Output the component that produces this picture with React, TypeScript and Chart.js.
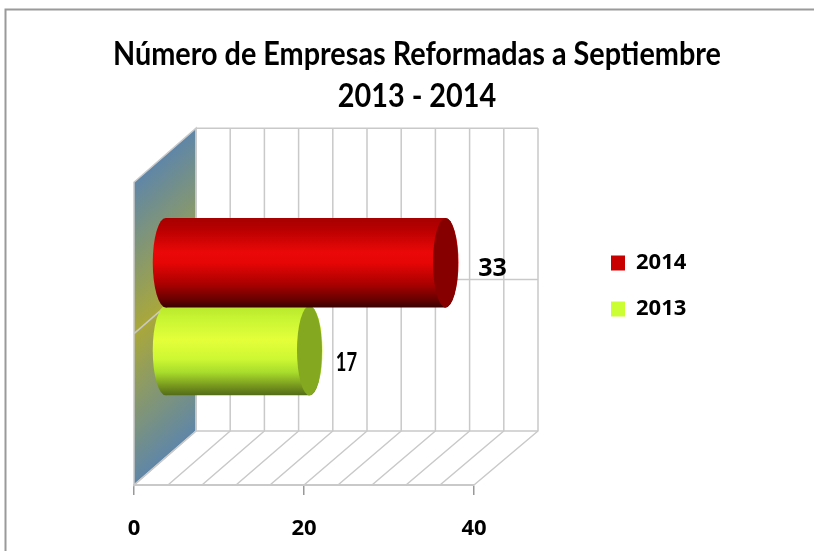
import React, { useEffect, useRef } from "react";
import { Chart, registerables } from "chart.js";

Chart.register(...registerables);

const categories = [""];
const seriesNames = ["2014", "2013"];
const seriesValues = [[33], [17]];
const legendColors = ["#c80000", "#ccff33"];
const capColors = ["#860000", "#84a820"];
const axisTicks = [0, 20, 40];
const titleLines = ["Número de Empresas Reformadas a Septiembre", "2013 - 2014"];
const gradientStops: [number, string][][] = [
  [[0, "#a80000"], [0.12, "#b80000"], [0.38, "#ea0808"], [0.5, "#e60606"], [0.75, "#a80000"], [0.92, "#680000"], [1, "#3c0000"]],
  [[0, "#b8e62c"], [0.12, "#c6f432"], [0.38, "#e4ff3a"], [0.6, "#ccf732"], [0.75, "#a8dc2c"], [0.9, "#78981e"], [1, "#56701a"]],
];

const CAT_PCT = 0.58;
const DX = 62, DY = -54;
const BACK_SCALE = 342 / 340;
const HALF_DX = 31, HALF_DY = -27;
const LINE = "#c9c9c9";
const BODY_FONT = "'Open Sans'";
const TITLE_CENTER = 417;
const TITLE_SQUEEZE = 0.9;

const decor = {
  id: "decor",
  afterLayout(chart: any) {
    chart.legend.left = 587;
    chart.legend.right = 760;
    chart.legend.top = 228;
    chart.legend.bottom = 480;
    const t = chart.titleBlock;
    t.left = 10;
    t.right = 824;
    if (!t._squeezed) {
      t._squeezed = true;
      const draw = t.draw.bind(t);
      t.draw = () => {
        const c = chart.ctx;
        c.save();
        c.translate(TITLE_CENTER, 0);
        c.scale(TITLE_SQUEEZE, 1);
        c.translate(-TITLE_CENTER, 0);
        draw();
        c.restore();
      };
    }
  },
  beforeDraw(chart: any) {
    const c = chart.ctx;
    c.save();
    c.strokeStyle = "#9a9a9a";
    c.lineWidth = 2;
    c.beginPath();
    c.moveTo(5.5, 551);
    c.lineTo(5.5, 9.5);
    c.lineTo(814, 9.5);
    c.stroke();
    c.restore();
  },
  beforeDatasetsDraw(chart: any) {
    const c = chart.ctx;
    const a = chart.chartArea;
    const x = chart.scales.x;
    const x0 = x.getPixelForValue(0);
    const xb = (v: number) => x0 + DX + (x.getPixelForValue(v) - x0) * BACK_SCALE;
    const backTop = a.top + DY;
    const backBot = a.bottom + DY;
    c.save();
    // side wall
    const g = c.createLinearGradient(x0, a.top, x0 + 150, a.top + 172);
    g.addColorStop(0, "#5f86a8");
    g.addColorStop(0.5, "#aaa83a");
    g.addColorStop(1, "#5f86a8");
    c.fillStyle = g;
    c.beginPath();
    c.moveTo(x0, a.top);
    c.lineTo(x0 + DX, backTop);
    c.lineTo(x0 + DX, backBot);
    c.lineTo(x0, a.bottom);
    c.closePath();
    c.fill();
    c.strokeStyle = LINE;
    c.lineWidth = 1.5;
    c.stroke();
    // back wall and floor grid
    for (let v = 0; v <= 40; v += 4) {
      c.beginPath();
      c.moveTo(x.getPixelForValue(v), a.bottom);
      c.lineTo(xb(v), backBot);
      c.lineTo(xb(v), backTop);
      c.stroke();
    }
    const cy = (a.top + a.bottom) / 2;
    const rows = [backTop, backBot, cy + DY];
    rows.forEach((y) => {
      c.beginPath();
      c.moveTo(xb(0), y);
      c.lineTo(xb(40), y);
      c.stroke();
    });
    c.beginPath();
    c.moveTo(x0, cy);
    c.lineTo(x0 + DX, cy + DY);
    c.stroke();
    c.restore();
  },
  beforeDatasetDraw(chart: any, args: any) {
    const c = chart.ctx;
    c.save();
    c.translate(HALF_DX, HALF_DY);
    const bar = chart.getDatasetMeta(args.index).data[0];
    const h = bar.height;
    c.fillStyle = bar.options.backgroundColor;
    c.beginPath();
    c.ellipse(bar.base, bar.y, 13, h / 2, 0, 0, Math.PI * 2);
    c.fill();
    c.beginPath();
    c.ellipse(bar.x, bar.y, 13, h / 2, 0, 0, Math.PI * 2);
    c.fill();
  },
  afterDatasetDraw(chart: any, args: any) {
    const c = chart.ctx;
    const bar = chart.getDatasetMeta(args.index).data[0];
    c.fillStyle = capColors[args.index];
    c.beginPath();
    c.ellipse(bar.x, bar.y, 12.5, bar.height / 2, 0, 0, Math.PI * 2);
    c.fill();
    c.restore();
  },
  afterDatasetsDraw(chart: any) {
    const c = chart.ctx;
    const offsets = [[78, -21], [68, -15]];
    const fonts = [`bold 25px ${BODY_FONT}`, "bold 27px Lato"];
    const squeeze = [1, 0.68];
    c.save();
    c.fillStyle = "#000";
    c.textAlign = "center";
    c.textBaseline = "middle";
    seriesValues.forEach((vals, i) => {
      const bar = chart.getDatasetMeta(i).data[0];
      c.save();
      c.font = fonts[i];
      c.translate(bar.x + offsets[i][0], bar.y + offsets[i][1]);
      c.scale(squeeze[i], 1);
      c.fillText(String(vals[0]), 0, 0);
      c.restore();
    });
    c.restore();
  },
};

export default function App() {
  const ref = useRef<HTMLCanvasElement>(null);
  useEffect(() => {
    document.body.style.margin = "0";
    const chart = new Chart(ref.current as HTMLCanvasElement, {
      type: "bar",
      data: {
        labels: categories,
        datasets: seriesNames.map((name, i) => ({
          label: name,
          data: seriesValues[i],
          clip: false,
          categoryPercentage: CAT_PCT,
          barPercentage: 1.02,
          borderWidth: 0,
          backgroundColor: (ctx: any) => {
            const a = ctx.chart.chartArea;
            if (!a) return legendColors[i];
            const band = a.height * CAT_PCT;
            const top = (a.top + a.bottom) / 2 - band / 2 + (i * band) / 2;
            const g = ctx.chart.ctx.createLinearGradient(0, top, 0, top + band / 2);
            gradientStops[i].forEach(([p, col]) => g.addColorStop(p, col));
            return g;
          },
        })),
      } as any,
      options: {
        indexAxis: "y",
        responsive: false,
        animation: false,
        layout: { padding: { left: 134, right: 340, top: 0, bottom: 0 } },
        scales: {
          x: {
            min: 0,
            max: 40,
            afterBuildTicks: (s: any) => {
              s.ticks = axisTicks.map((value) => ({ value }));
            },
            afterFit: (s: any) => {
              s.height = 66;
            },
            grid: { drawOnChartArea: false, drawTicks: true, tickLength: 10, color: "#999", lineWidth: 1.5 },
            border: { display: true, color: LINE, width: 2 },
            ticks: {
              color: "#000",
              padding: 21,
              maxRotation: 0,
              font: { family: BODY_FONT, weight: "bold", size: 22 },
            },
          },
          y: { display: false },
        },
        plugins: {
          tooltip: { enabled: false },
          title: {
            display: true,
            text: titleLines,
            color: "#000",
            font: { family: "Lato", weight: "bold", size: 32, lineHeight: 1.3 },
            padding: { top: 34, bottom: 65 },
          },
          legend: {
            position: "chartArea",
            align: "start",
            labels: {
              boxWidth: 14,
              boxHeight: 15,
              padding: 24,
              color: "#000",
              font: { family: BODY_FONT, weight: "bold", size: 22 },
              generateLabels: () =>
                seriesNames.map((text, i) => ({
                  text,
                  fillStyle: legendColors[i],
                  strokeStyle: legendColors[i],
                  lineWidth: 0,
                  datasetIndex: i,
                })),
            },
          },
        },
      } as any,
      plugins: [decor],
    });
    return () => chart.destroy();
  }, []);
  return <canvas ref={ref} width={814} height={551} style={{ display: "block" }} />;
}
